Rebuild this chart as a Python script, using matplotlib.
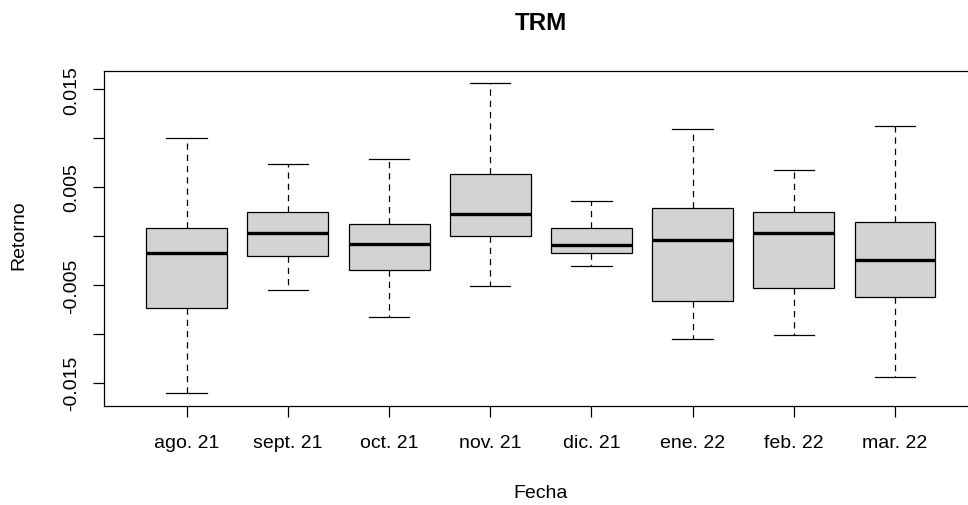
import matplotlib
matplotlib.use("Agg")
import matplotlib.pyplot as plt

plt.rcParams['font.family'] = ['Liberation Sans', 'DejaVu Sans']

# monthly return distributions (five-number summaries)
meses = ["ago. 21", "sept. 21", "oct. 21", "nov. 21", "dic. 21", "ene. 22", "feb. 22", "mar. 22"]
bigote_inf = [-0.0161, -0.0055, -0.0083, -0.0051, -0.0031, -0.0105, -0.0101, -0.0144]
q1 = [-0.0074, -0.0020, -0.0035, 0.0000, -0.0017, -0.0066, -0.0053, -0.0062]
mediana = [-0.0017, 0.0003, -0.0008, 0.0022, -0.0009, -0.0004, 0.0003, -0.0025]
q3 = [0.0008, 0.0024, 0.0012, 0.0063, 0.0008, 0.0029, 0.0024, 0.0014]
bigote_sup = [0.0100, 0.0074, 0.0079, 0.0156, 0.0036, 0.0109, 0.0067, 0.0112]

stats = []
for i in range(len(meses)):
    stats.append({"label": meses[i], "whislo": bigote_inf[i], "q1": q1[i],
                  "med": mediana[i], "q3": q3[i], "whishi": bigote_sup[i],
                  "fliers": []})

fig = plt.figure(figsize=(9.68, 5.06), dpi=100)
ax = fig.add_axes([0.1071, 0.1957, 0.9032, 0.6627])

ax.bxp(stats, positions=range(1, 9), widths=0.8, patch_artist=True,
       showfliers=False,
       boxprops=dict(facecolor="#d3d3d3", edgecolor="black", linewidth=0.9),
       medianprops=dict(color="black", linewidth=2.4, solid_capstyle="butt"),
       whiskerprops=dict(color="black", linewidth=0.9, linestyle=(0, (5, 4))),
       capprops=dict(color="black", linewidth=0.9),
       capwidths=0.4)

ax.set_xlim(0.18, 8.82)
ax.set_ylim(-0.01738, 0.0169)

ax.set_xticks(range(1, 9))
ax.set_xticklabels(meses, fontsize=14)
yt = [-0.015, -0.010, -0.005, 0.000, 0.005, 0.010, 0.015]
ax.set_yticks(yt)
ax.set_yticklabels(["-0.015", "", "-0.005", "", "0.005", "", "0.015"],
                   rotation=90, va="center", fontsize=14)
ax.tick_params(axis="x", length=8, width=0.9, pad=12)
ax.tick_params(axis="y", length=8, width=0.9, pad=9)
for s in ax.spines.values():
    s.set_linewidth(0.9)
ax.spines["right"].set_visible(False)  # frame runs past the image edge

fig.text(0.5585, 0.953, "TRM", ha="center", va="center", fontsize=17.5, fontweight="bold")
fig.text(0.5585, 0.024, "Fecha", ha="center", va="center", fontsize=14)
fig.text(0.019, 0.535, "Retorno", ha="center", va="center", rotation=90, fontsize=14)

fig.savefig("out.png", dpi=100)
